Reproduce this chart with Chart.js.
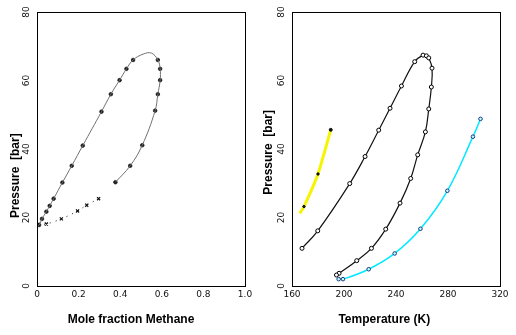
<!DOCTYPE html>
<html><head><meta charset="utf-8">
<script src="https://cdn.jsdelivr.net/npm/chart.js@4"></script>
<style>
html,body{margin:0;padding:0;background:#fff;width:516px;height:335px;overflow:hidden}
canvas{position:absolute;top:0}
#c1{left:0}#c2{left:258px}
</style></head>
<body>
<canvas id="c1" width="258" height="335"></canvas>
<canvas id="c2" width="258" height="335"></canvas>
<script>
// ---------- Left panel: P vs mole fraction methane ----------
const loopStartX = [0.0];
const loopStartY = [17.5];
const loopUpperX = [0.01, 0.024, 0.045, 0.061, 0.080, 0.122, 0.167, 0.22, 0.31, 0.355, 0.397, 0.43, 0.462];
const loopUpperY = [17.8, 19.6, 21.7, 23.4, 25.5, 30.2, 35.1, 41.0, 50.9, 56.0, 60.1, 63.4, 66.0];
const loopPeakX = [0.51, 0.55];
const loopPeakY = [67.7, 68.0];
const loopLowerX = [0.581, 0.592, 0.592, 0.581, 0.568, 0.506, 0.448, 0.377];
const loopLowerY = [66.0, 63.4, 60.1, 56.0, 51.2, 41.1, 35.1, 30.3];
const vaporX = [0.005, 0.045, 0.117, 0.195, 0.239, 0.296];
const vaporY = [18.0, 18.1, 19.6, 21.9, 23.6, 25.5];
const fracTicks = [0, 0.2, 0.4, 0.6, 0.8, 1];
const pressTicks = [0, 20, 40, 60, 80];

// ---------- Right panel: P vs temperature ----------
const methaneT = [165.9, 169.2, 180.0, 189.8];
const methaneP = [21.2, 23.2, 32.7, 45.6];
const envT = [167.7, 179.8, 204.4, 216.2, 226.7, 235.4, 244.2, 254.4, 260.8, 263.4, 265.2, 267.7, 267.2, 265.2, 262.6, 256.7, 251.3, 243.1, 232.1, 221.1, 209.8, 196.2, 194.2];
const envP = [11.0, 16.1, 29.9, 37.8, 45.5, 51.9, 58.4, 65.5, 67.4, 67.2, 66.6, 63.6, 58.1, 51.7, 45.0, 38.3, 31.4, 24.2, 16.6, 11.0, 7.4, 3.7, 3.2];
const ethaneT = [195.9, 199.2, 219.0, 239.0, 258.8, 279.5, 299.2, 305.0];
const ethaneP = [2.0, 2.0, 4.9, 9.5, 16.7, 27.8, 43.6, 48.8];
const tempTicks = [160, 200, 240, 280, 320];

const pts = (xs, ys) => xs.map((x, i) => ({x: x, y: ys[i]}));

const boxPlugin = {
  id: 'box',
  afterDraw(chart) {
    const {ctx, chartArea: a} = chart;
    ctx.save();
    ctx.strokeStyle = '#000';
    ctx.lineWidth = 1;
    ctx.strokeRect(Math.round(a.left) + 0.5, Math.round(a.top) + 0.5,
                   Math.round(a.right - a.left), Math.round(a.bottom - a.top));
    ctx.restore();
  }
};

const tickFont = {family: 'DejaVu Sans', size: 9};
const titleFont = {family: 'Liberation Sans', size: 12, weight: 'bold'};

function axes(xMin, xMax, xTitle, yTitle, yWidth, yTitlePad, xTickVals) {
  return {
    x: {
      type: 'linear', min: xMin, max: xMax,
      afterBuildTicks(s) { s.ticks = xTickVals.map(v => ({value: v})); },
      ticks: {font: tickFont, color: '#111', padding: 3, maxRotation: 0, minRotation: 0},
      grid: {display: false, drawTicks: false},
      border: {display: false},
      title: {display: true, text: xTitle, font: titleFont, color: '#000', padding: {top: 0, bottom: 8}},
      afterFit(s) { s.height = 49; }
    },
    y: {
      type: 'linear', min: 0, max: 80,
      afterBuildTicks(s) { s.ticks = pressTicks.map(v => ({value: v})); },
      ticks: {font: tickFont, color: '#111', padding: 5, minRotation: 90, maxRotation: 90, crossAlign: 'center'},
      grid: {display: false, drawTicks: false},
      border: {display: false},
      title: {display: true, text: yTitle, font: titleFont, color: '#000', padding: {top: yTitlePad, bottom: 0}},
      afterFit(s) { s.width = yWidth; }
    }
  };
}

const common = {
  responsive: false, animation: false, devicePixelRatio: 1,
  plugins: {legend: {display: false}, tooltip: {enabled: false}}
};

new Chart(document.getElementById('c1'), {
  type: 'scatter',
  data: {
    datasets: [
      {
        data: pts(loopStartX.concat(loopUpperX, loopPeakX, loopLowerX),
                  loopStartY.concat(loopUpperY, loopPeakY, loopLowerY)),
        showLine: true, borderColor: '#707070', borderWidth: 1, tension: 0.4, pointRadius: 0
      },
      {
        data: pts(loopUpperX.concat(loopLowerX), loopUpperY.concat(loopLowerY)),
        showLine: false, pointStyle: 'circle', pointRadius: 1.8, pointBorderWidth: 0.8,
        pointBackgroundColor: '#1a1a1a', pointBorderColor: '#1a1a1a'
      },
      {
        data: pts(vaporX, vaporY),
        showLine: true, borderColor: '#222', borderWidth: 1, borderDash: [1, 5], tension: 0.3,
        pointStyle: 'crossRot', pointRadius: 2.2, pointBorderWidth: 1.2, pointBorderColor: '#111'
      }
    ]
  },
  options: Object.assign({}, common, {
    layout: {padding: {left: 0, right: 13, top: 12, bottom: 0}},
    scales: axes(0, 1, 'Mole fraction Methane      ', 'Pressure  [bar]                ', 37, 8, fracTicks)
  }),
  plugins: [boxPlugin]
});

new Chart(document.getElementById('c2'), {
  type: 'scatter',
  data: {
    datasets: [
      {
        data: pts(methaneT, methaneP),
        showLine: true, borderColor: '#f5f500', borderWidth: 3, tension: 0.2,
        pointRadius: [0, 1.2, 1.2, 1.5], pointBorderWidth: 1,
        pointBackgroundColor: '#111', pointBorderColor: '#111'
      },
      {
        data: pts(envT, envP),
        showLine: true, borderColor: '#111', borderWidth: 1.2, tension: 0.4,
        pointStyle: 'circle', pointRadius: 2, pointBorderWidth: 1,
        pointBorderColor: '#000', pointBackgroundColor: '#fff'
      },
      {
        data: pts(ethaneT, ethaneP),
        showLine: true, borderColor: '#00e8ff', borderWidth: 1.5, tension: 0.4,
        pointStyle: 'circle', pointRadius: 1.8, pointBorderWidth: 1,
        pointBorderColor: '#1a3a80', pointBackgroundColor: '#bff'
      }
    ]
  },
  options: Object.assign({}, common, {
    layout: {padding: {left: 0, right: 16, top: 12, bottom: 0}},
    scales: axes(160, 320, 'Temperature (K)       ', 'Pressure  [bar]  ', 34, 3, tempTicks)
  }),
  plugins: [boxPlugin]
});
</script>
</body></html>
